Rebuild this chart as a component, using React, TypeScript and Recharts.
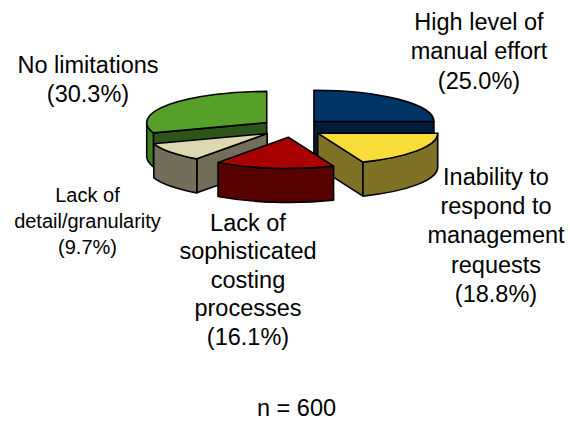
import React from 'react';
import { PieChart, Pie } from 'recharts';

const CATEGORIES = [
  'High level of\nmanual effort',
  'Inability to\nrespond to\nmanagement\nrequests',
  'Lack of\nsophisticated\ncosting\nprocesses',
  'Lack of\ndetail/granularity',
  'No limitations',
];
const VALUES = [25.0, 18.8, 16.1, 9.7, 30.3];
const SAMPLE_SIZE = 600;

const TOP_COLORS = ['#003366', '#F8DC38', '#A80000', '#DDD8B0', '#56A02A'];
const RIM_COLORS = ['#001B38', '#7F7125', '#560000', '#736E5A', '#437D22'];
const CUT_COLORS = ['#001B38', '#7F7125', '#560000', '#736E5A', '#2D5517'];

// text blocks: centre x, first baseline, line step, font size
const LABEL_POS = [
  { x: 479, y: 29.5, step: 29.5, size: 23.5 },
  { x: 496, y: 185, step: 29.2, size: 23.5 },
  { x: 248, y: 230.5, step: 28.5, size: 23.5 },
  { x: 87.5, y: 201.5, step: 26.3, size: 20 },
  { x: 88, y: 72.7, step: 29, size: 23.5 },
];

const FONT = '"Liberation Sans", Arial, sans-serif';
const RAD = Math.PI / 180;
const TILT = 0.26; // vertical squash of the pie top
const DEPTH = 34;
const EXPLODE = 31;
const EXPLODE_Y = 0.3;

const data = CATEGORIES.map((name, i) => ({ name, value: VALUES[i] }));

// back-to-front paint order (slices further back drawn first)
const total = VALUES.reduce((s, v) => s + v, 0);
const mids: number[] = [];
let acc = 0;
VALUES.forEach((v) => {
  mids.push(90 - (360 * (acc + v / 2)) / total);
  acc += v;
});
const DRAW_ORDER = mids
  .map((_, i) => i)
  .sort((a, b) => Math.sin(mids[b] * RAD) - Math.sin(mids[a] * RAD));

const renderSlice = (pass: number) => (props: any) => {
  const { index, cx, cy, outerRadius, startAngle, endAngle, value } = props;
  if (DRAW_ORDER[pass] !== index) return <g />;

  const rx = outerRadius;
  const ry = outerRadius * TILT;
  const mid = (startAngle + endAngle) / 2;
  const ox = cx + EXPLODE * Math.cos(mid * RAD);
  const oy = cy - EXPLODE * EXPLODE_Y * Math.sin(mid * RAD);
  const pt = (a: number, dz = 0) =>
    `${(ox + rx * Math.cos(a * RAD)).toFixed(2)},${(oy - ry * Math.sin(a * RAD) + dz).toFixed(2)}`;

  const a1 = Math.max(startAngle, endAngle);
  const a2 = Math.min(startAngle, endAngle);
  const large = a1 - a2 > 180 ? 1 : 0;

  const stroke = { stroke: '#000', strokeWidth: 1.6, strokeLinejoin: 'round' as const };
  const faces: React.ReactNode[] = [];

  // cut faces
  [a1, a2].forEach((a, k) => {
    const visible = k === 0 ? Math.cos(a * RAD) < -1e-6 : Math.cos(a * RAD) > 1e-6;
    if (!visible) return;
    faces.push(
      <path
        key={`cut${k}`}
        d={`M${ox},${oy} L${pt(a)} L${pt(a, DEPTH)} L${ox},${oy + DEPTH} Z`}
        fill={CUT_COLORS[index]}
        {...stroke}
      />
    );
  });

  // outer rim, front half only
  [-540, -180, 180].forEach((lo, k) => {
    const b2 = Math.max(a2, lo);
    const b1 = Math.min(a1, lo + 180);
    if (b1 - b2 < 0.5) return;
    faces.push(
      <path
        key={`rim${k}`}
        d={`M${pt(b1)} A${rx},${ry} 0 0 1 ${pt(b2)} L${pt(b2, DEPTH)} A${rx},${ry} 0 0 0 ${pt(b1, DEPTH)} Z`}
        fill={RIM_COLORS[index]}
        {...stroke}
      />
    );
  });

  const pos = LABEL_POS[index];
  const lines = [...CATEGORIES[index].split('\n'), `(${Number(value).toFixed(1)}%)`];

  return (
    <g>
      {faces}
      <path
        d={`M${ox},${oy} L${pt(a1)} A${rx},${ry} 0 ${large} 1 ${pt(a2)} Z`}
        fill={TOP_COLORS[index]}
        {...stroke}
      />
      <text
        x={pos.x}
        y={pos.y}
        textAnchor="middle"
        fontFamily={FONT}
        fontSize={pos.size}
        fill="#000"
      >
        {lines.map((line, i) => (
          <tspan key={i} x={pos.x} dy={i === 0 ? 0 : pos.step}>
            {line}
          </tspan>
        ))}
      </text>
    </g>
  );
};

export default function App() {
  return (
    <div
      style={{
        position: 'absolute',
        left: 0,
        top: 0,
        width: 570,
        height: 421,
        background: '#fff',
      }}
    >
      <PieChart width={570} height={421} margin={{ top: 0, right: 0, bottom: 0, left: 0 }}>
        {DRAW_ORDER.map((_, pass) => (
          <Pie
            key={pass}
            data={data}
            dataKey="value"
            nameKey="name"
            cx={292}
            cy={128}
            outerRadius={120}
            startAngle={90}
            endAngle={-270}
            fill="none"
            stroke="none"
            labelLine={false}
            label={renderSlice(pass)}
            isAnimationActive={false}
          />
        ))}
        <text
          x={296.5}
          y={416}
          textAnchor="middle"
          fontFamily={FONT}
          fontSize={23.5}
          fill="#000"
        >
          n = {SAMPLE_SIZE}
        </text>
      </PieChart>
    </div>
  );
}
